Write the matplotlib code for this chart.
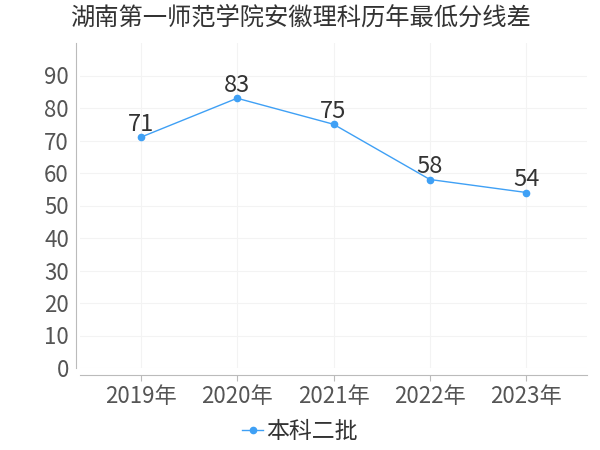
import matplotlib
matplotlib.use("Agg")
import matplotlib.pyplot as plt

plt.rcParams['font.family'] = ['Noto Sans CJK SC', 'DejaVu Sans']

years = ["2019年", "2020年", "2021年", "2022年", "2023年"]
scores = [71, 83, 75, 58, 54]
series_name = "本科二批"
title = "湖南第一师范学院安徽理科历年最低分线差"
yticks = [0, 10, 20, 30, 40, 50, 60, 70, 80, 90]

color = "#3fa0f5"
fig = plt.figure(figsize=(6, 4.5), dpi=100)
ax = fig.add_axes([80/600, (450-368)/450, (587-80)/600, (368-43)/450])
x = list(range(len(years)))
ax.plot(x, scores, color=color, lw=1, marker='o', ms=4.5, label=series_name)
for xi, v in zip(x, scores):
    ax.annotate(str(v), (xi, v), xytext=(0, 1), textcoords='offset points',
                ha='center', va='bottom', fontsize=17, color='#333333')
ax.set_ylim(0, 100)
ax.set_xlim(-0.63, 4.63)
ax.set_yticks(yticks)
ax.set_xticks(x)
ax.set_xticklabels(years)
ax.grid(True, color='#f3f3f3', lw=0.8)
ax.set_axisbelow(True)
for s in ['top', 'right']:
    ax.spines[s].set_visible(False)
ax.spines['left'].set_position(('outward', 3))
ax.spines['bottom'].set_position(('outward', 5))
ax.spines['left'].set_color('#bbbbbb')
ax.spines['bottom'].set_color('#bbbbbb')
ax.tick_params(axis='y', length=0, labelsize=16, labelcolor='#555555', pad=5)
ax.tick_params(axis='x', length=4, color='#bbbbbb', labelsize=16, labelcolor='#555555', pad=3)
fig.text(0.5, 1 - 18/450, title, ha='center', va='center', fontsize=17.5, color='#333333')
fig.legend(loc='center', bbox_to_anchor=(0.5, 1 - 432/450), frameon=False,
           fontsize=16.5, labelcolor='#333333', handlelength=0.9, handletextpad=0.15)
fig.savefig("out.png", dpi=100)
